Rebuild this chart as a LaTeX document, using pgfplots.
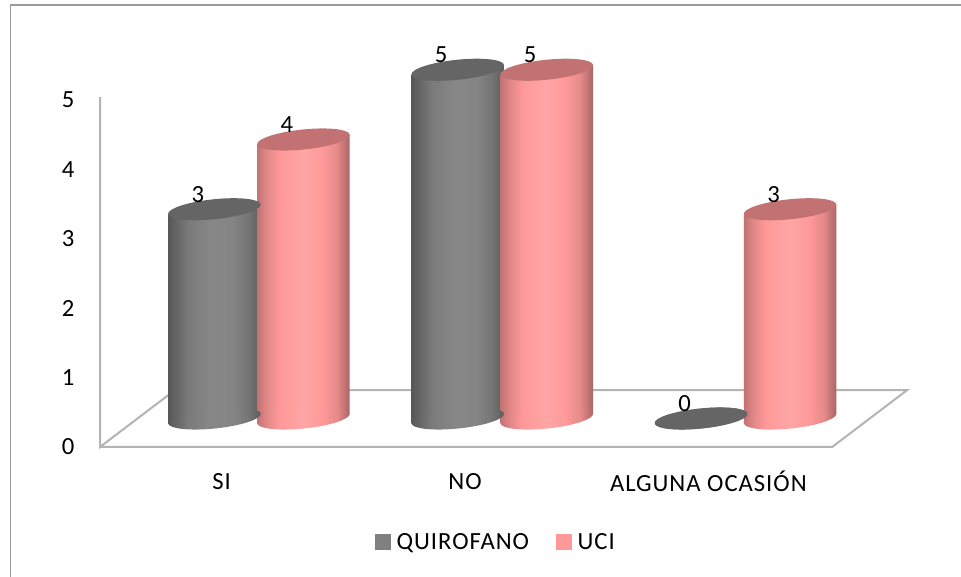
\documentclass[border=0pt]{standalone}
\usepackage{pgfplots}
\usepackage{pgfplotstable}
\usepackage{fontspec}
\setmainfont{Carlito}[LetterSpace=4]
\pgfplotsset{compat=1.18}
\definecolor{gridgray}{HTML}{B4B4B4}
\definecolor{framegray}{HTML}{9A9A9A}
\definecolor{capgray}{HTML}{656565}
\definecolor{capred}{HTML}{C27272}
\definecolor{leggray}{HTML}{808080}
\definecolor{legred}{HTML}{FF9999}
\pgfdeclarehorizontalshading{cylgray}{100bp}{color(0bp)=(black!66);
 color(25bp)=(black!66);color(36bp)=(black!52);color(48bp)=(black!47);color(60bp)=(black!48);color(68bp)=(black!54);color(75bp)=(black!64);color(100bp)=(black!64)}
\pgfdeclarehorizontalshading{cylred}{100bp}{color(0bp)=(capred);
 color(25bp)=(capred);color(30bp)=(legred!88!black);color(37bp)=(legred);color(50bp)=(legred!88!white);color(60bp)=(legred);color(68bp)=(legred!90!black);color(75bp)=(legred!66!black);color(100bp)=(legred!66!black)}
\pgfdeclareplotmark{cyltop}{%
  \pgfpathellipse{\pgfpointorigin}{\pgfpoint{34.7pt}{3.6pt}}{\pgfpoint{-0.78pt}{7.46pt}}%
  \pgfusepathqfill}
\pgfdeclareplotmark{basegray}{%
  \pgfpathellipse{\pgfpointorigin}{\pgfpoint{34.7pt}{3.6pt}}{\pgfpoint{-0.78pt}{7.46pt}}%
  \pgfshadepath{cylgray}{0}\pgfusepath{discard}}
\pgfdeclareplotmark{basered}{%
  \pgfpathellipse{\pgfpointorigin}{\pgfpoint{34.7pt}{3.6pt}}{\pgfpoint{-0.78pt}{7.46pt}}%
  \pgfshadepath{cylred}{0}\pgfusepath{discard}}
\newcommand{\chartfont}{\fontsize{18.5}{21}\selectfont}
\pgfplotstableread{
x y
-0.183 3
0.817 5
1.817 0
}\quirofano
\pgfplotstableread{
x y
0.183 4
1.183 5
2.183 3
}\uci
% a bar whose top and bottom edges follow the tilt of the ellipses;
% #1 is the bar's centre in pt from the axis's left edge
\pgfplotsset{cyl/.style n args={2}{forget plot,ybar,bar shift=0pt,bar width=69.4pt,draw=none,
   shading=#2,yshift=-0.1037*#1 pt,yslant=0.1037}}
\begin{document}
\begin{tikzpicture}[x=0.75pt,y=0.75pt]
\useasboundingbox (0,0) rectangle (961,577);
\draw[framegray,line width=1.2pt] (10.5,0) -- (10.5,572) -- (961,572);
% frame axis: ticks, floor
\begin{axis}[
  at={(75pt,97.5pt)},anchor=south west,
  scale only axis,width=547.5pt,height=260.25pt,
  xmin=-0.5,xmax=2.5,ymin=0,ymax=5,
  clip=false,
  axis lines=left,
  axis line style={-,gridgray,line width=1.5pt},
  major tick length=0pt,
  xtick={0,1,2},
  xticklabels={SI,NO,ALGUNA OCASIÓN},
  ytick={0,1,2,3,4,5},
  /pgf/number format/assume math mode=true,
  tick label style={font=\chartfont,text=black},
  xticklabel style={anchor=center,yshift=-26pt},
  yticklabel style={anchor=center,xshift=-24pt},
]
\addplot[gridgray,line width=1.5pt] coordinates {(-0.5,5.04) (-0.5,0) (-0.192,0.82) (2.817,0.82) (2.509,0) (-0.5,0)};
\end{axis}
% bars
\begin{axis}[
  at={(75pt,97.5pt)},anchor=south west,
  scale only axis,width=547.5pt,height=300pt,
  xmin=-0.653,xmax=2.347,ymin=-0.4086,ymax=5.3262,
  clip=false,
  hide axis,
  /pgf/number format/assume math mode=true,
  legend style={draw=none,fill=none,font=\chartfont,text=black,
    at={(0.543,-0.238)},anchor=center,
    /tikz/every even column/.append style={column sep=18.5pt},
    inner sep=0pt},
  legend columns=2,
  legend cell align=left,
]
\addlegendimage{legend image code/.code={\fill[leggray] (0pt,-5.6pt) rectangle (11.2pt,5.6pt);\path (13.5pt,0pt);}}
\addlegendentry{QUIROFANO}
\addlegendimage{legend image code/.code={\fill[legred] (0pt,-5.6pt) rectangle (11.2pt,5.6pt);\path (13.5pt,0pt);}}
\addlegendentry{UCI}
% QUIROFANO
\addplot[forget plot,only marks,mark=basegray] table[x=x,y expr=0] {\quirofano};
\addplot[cyl={85.875}{cylgray}] coordinates {(-0.183,3)};
\addplot[cyl={268.875}{cylgray}] coordinates {(0.817,5)};
\addplot[forget plot,only marks,mark=cyltop,mark options={fill=capgray,draw=none},
  nodes near coords,
  nodes near coords style={font=\chartfont,text=black,anchor=center,xshift=-12.4pt,yshift=11.2pt}]
  table[x=x,y=y] {\quirofano};
% UCI
\addplot[forget plot,only marks,mark=basered] table[x=x,y expr=0] {\uci};
\addplot[cyl={152.625}{cylred}] coordinates {(0.183,4)};
\addplot[cyl={335.625}{cylred}] coordinates {(1.183,5)};
\addplot[cyl={518.625}{cylred}] coordinates {(2.183,3)};
\addplot[forget plot,only marks,mark=cyltop,mark options={fill=capred,draw=none},
  nodes near coords,
  nodes near coords style={font=\chartfont,text=black,anchor=center,xshift=-12.4pt,yshift=11.2pt}]
  table[x=x,y=y] {\uci};
\end{axis}
\end{tikzpicture}
\end{document}
